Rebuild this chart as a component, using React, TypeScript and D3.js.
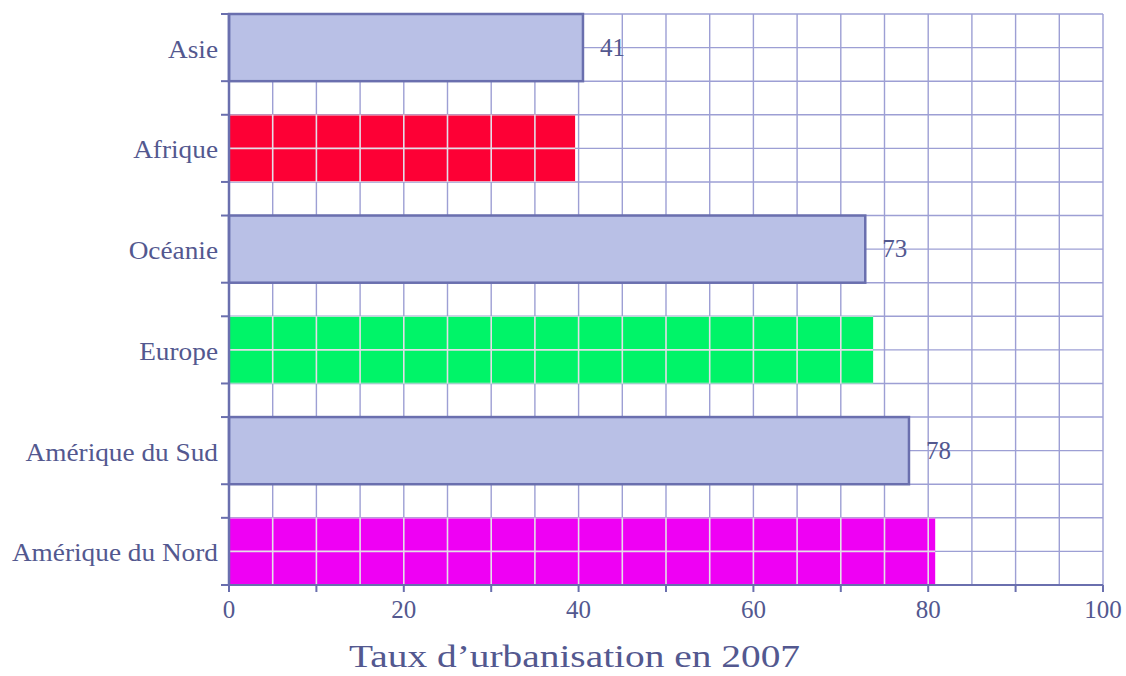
import React from "react";
import * as d3 from "d3";

const categories = ["Asie", "Afrique", "Océanie", "Europe", "Amérique du Sud", "Amérique du Nord"];
const values = [40.5, 39.6, 72.8, 73.7, 77.8, 80.8];
const valueLabels = ["41", "", "73", "", "78", ""];
const barStyles = ["lav", "red", "lav", "green", "lav", "magenta"];
const xTicks = [0, 20, 40, 60, 80, 100];
const xTitle = "Taux d’urbanisation en 2007";

const W = 1126;
const H = 676;
const left = 229;
const right = 1103;
const top = 14;
const bottom = 585;

const fills: Record<string, string> = {
  lav: "#b9c0e6",
  red: "#fd0035",
  green: "#00f468",
  magenta: "#ef00f4",
};
const textColor = "#53588f";
const gridColor = "#9d9fd4";
const axisColor = "#6a6fae";

export default function App() {
  const x = d3.scaleLinear().domain([0, 100]).range([left, right]);
  // 17 cells: each category = 2 cells bar + 1 cell gap (except last)
  const yCells = d3.scaleLinear().domain([0, 17]).range([top, bottom]);
  const barTop = (i: number) => yCells(i * 3);
  const barBot = (i: number) => yCells(i * 3 + 2);

  const vLines = d3.range(5, 101, 5);
  const hLines = d3.range(0, 18);
  const axisTicks = d3.range(0, 101, 10);

  const gridEls = (color: string, keyp: string, sw: number) => (
    <g key={keyp}>
      {vLines.map((v) => (
        <line key={"v" + v} x1={x(v)} x2={x(v)} y1={top} y2={bottom} stroke={color} strokeWidth={sw} />
      ))}
      {hLines.map((h) => (
        <line key={"h" + h} x1={left} x2={right} y1={yCells(h)} y2={yCells(h)} stroke={color} strokeWidth={sw} />
      ))}
    </g>
  );

  return (
    <svg width={W} height={H} style={{ position: "absolute", left: 0, top: 0, background: "#fff" }}
      fontFamily="'Liberation Serif', 'DejaVu Serif', serif">
      <defs>
        {categories.map((c, i) =>
          barStyles[i] !== "lav" ? (
            <clipPath id={"clip" + i} key={c}>
              <rect x={x(0) + 1} y={barTop(i)} width={x(values[i]) - x(0) - 1} height={barBot(i) - barTop(i)} />
            </clipPath>
          ) : null
        )}
      </defs>
      <rect width={W} height={H} fill="#fff" />
      {gridEls(gridColor, "grid", 1.4)}
      {/* colored bars */}
      {categories.map((c, i) =>
        barStyles[i] !== "lav" ? (
          <g key={c}>
            <rect x={x(0) + 1} y={barTop(i)} width={x(values[i]) - x(0) - 1} height={barBot(i) - barTop(i)} fill={fills[barStyles[i]]} />
            <g clipPath={`url(#clip${i})`}>{gridEls("#e4dde8", "g" + i, 1.6)}</g>
          </g>
        ) : null
      )}
      {/* lavender bars */}
      {categories.map((c, i) =>
        barStyles[i] === "lav" ? (
          <rect key={c} x={x(0)} y={barTop(i)} width={x(values[i]) - x(0)} height={barBot(i) - barTop(i)}
            fill={fills.lav} stroke={axisColor} strokeWidth={2.5} />
        ) : null
      )}
      {/* y axis */}
      <line x1={x(0)} x2={x(0)} y1={top} y2={bottom} stroke={axisColor} strokeWidth={2.5} />
      {categories.map((c, i) => {
        const cy = (barTop(i) + barBot(i)) / 2;
        return (
          <g key={"t" + c}>
            <line x1={x(0) - 8} x2={x(0)} y1={barTop(i)} y2={barTop(i)} stroke={axisColor} strokeWidth={2} />
            <line x1={x(0) - 8} x2={x(0)} y1={barBot(i)} y2={barBot(i)} stroke={axisColor} strokeWidth={2} />
            <text transform={`translate(${x(0) - 11},${cy + 10}) scale(1.05,1)`} textAnchor="end" fontSize={26} fill={textColor}>{c}</text>
            {valueLabels[i] ? (
              <text x={x(values[i]) + 17} y={cy + 8} fontSize={25} fill={textColor}>{valueLabels[i]}</text>
            ) : null}
          </g>
        );
      })}
      {/* x axis */}
      <line x1={x(0)} x2={x(100)} y1={bottom} y2={bottom} stroke={axisColor} strokeWidth={2} />
      {axisTicks.map((t) => (
        <line key={"xt" + t} x1={x(t)} x2={x(t)} y1={bottom} y2={bottom + 7} stroke={axisColor} strokeWidth={2} />
      ))}
      {xTicks.map((t) => (
        <text key={"xl" + t} x={x(t)} y={bottom + 33} textAnchor="middle" fontSize={25} fill={textColor}>{t}</text>
      ))}
      <text x={349} y={667} fontSize={31} textLength={451} lengthAdjust="spacingAndGlyphs" fill={textColor}>{xTitle}</text>
    </svg>
  );
}
